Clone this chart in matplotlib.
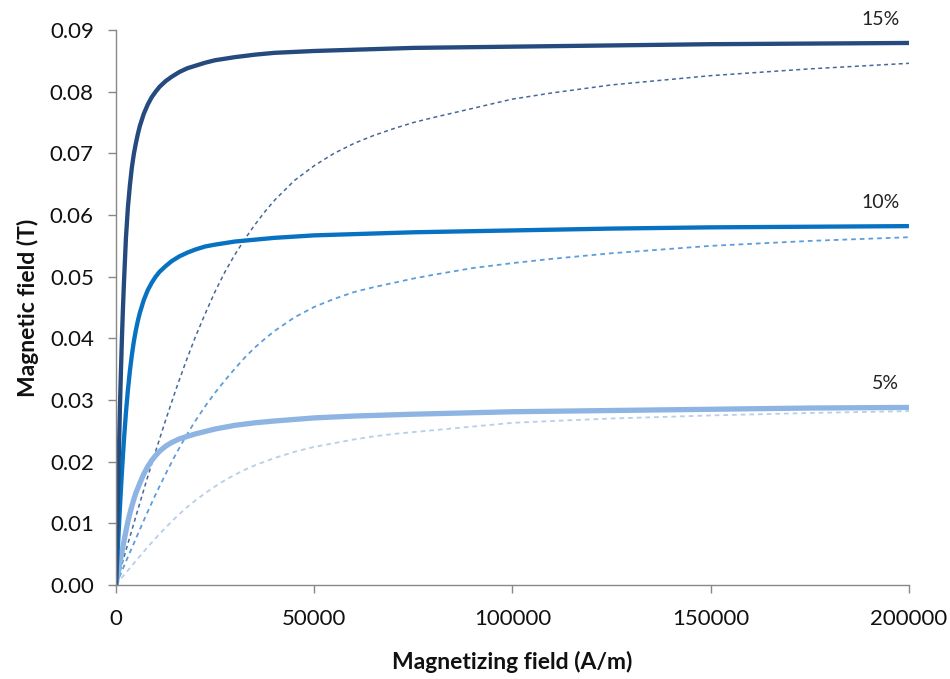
import matplotlib
matplotlib.use("Agg")
import matplotlib.pyplot as plt

plt.rcParams['font.family'] = ['Lato', 'DejaVu Sans']

# Magnetizing field H (A/m) sample points for the solid curves
h_solid = [0, 250, 500, 750, 1000, 1250, 1500, 1750, 2000, 2500, 3000, 3500,
           4000, 4500, 5000, 5500, 6000, 7000, 8000, 9000, 10000, 11000, 12500,
           14000, 16000, 18000, 20000, 22500, 25000, 30000, 35000, 40000, 50000,
           60000, 75000, 100000, 125000, 150000, 175000, 200000]

# Magnetic field B (T), solid curves
b15_solid = [0, 0.0077, 0.0151, 0.0222, 0.0290, 0.0347, 0.0401, 0.0448, 0.0489,
             0.0562, 0.0612, 0.0648, 0.0677, 0.0699, 0.0716, 0.0731, 0.0744,
             0.0764, 0.0779, 0.0791, 0.0800, 0.0808, 0.0817, 0.0824, 0.0832,
             0.0838, 0.0842, 0.0847, 0.0851, 0.0856, 0.0860, 0.0863, 0.0866,
             0.0868, 0.0871, 0.0873, 0.0875, 0.0877, 0.0878, 0.0879]
b10_solid = [0, 0.0033, 0.0065, 0.0096, 0.0127, 0.0156, 0.0184, 0.0210, 0.0235,
             0.0279, 0.0316, 0.0347, 0.0373, 0.0395, 0.0413, 0.0428, 0.0441,
             0.0462, 0.0478, 0.0490, 0.0500, 0.0508, 0.0517, 0.0525, 0.0533,
             0.0539, 0.0544, 0.0549, 0.0552, 0.0557, 0.0560, 0.0563, 0.0567,
             0.0569, 0.0572, 0.0575, 0.0578, 0.0580, 0.0581, 0.0582]
b5_solid = [0, 0.0009, 0.0018, 0.0027, 0.0036, 0.0045, 0.0053, 0.0062, 0.0071,
            0.0087, 0.0103, 0.0116, 0.0128, 0.0139, 0.0149, 0.0157, 0.0165,
            0.0180, 0.0192, 0.0202, 0.0210, 0.0217, 0.0225, 0.0231, 0.0237,
            0.0241, 0.0245, 0.0249, 0.0253, 0.0259, 0.0263, 0.0266, 0.0271,
            0.0274, 0.0277, 0.0281, 0.0283, 0.0285, 0.0287, 0.0288]

# Magnetizing field H (A/m) sample points for the dashed curves
h_dashed = [0, 2500, 5000, 7500, 10000, 12500, 15000, 17500, 20000, 22500,
            25000, 27500, 30000, 32500, 35000, 37500, 40000, 45000, 50000,
            55000, 60000, 65000, 70000, 75000, 80000, 90000, 100000, 110000,
            125000, 150000, 175000, 200000]

# Magnetic field B (T), dashed curves
b15_dashed = [0, 0.0056, 0.0111, 0.0165, 0.0217, 0.0267, 0.0315, 0.0360, 0.0402,
              0.0440, 0.0476, 0.0508, 0.0536, 0.0561, 0.0584, 0.0605, 0.0624,
              0.0656, 0.0680, 0.0700, 0.0716, 0.0729, 0.0740, 0.0750, 0.0758,
              0.0773, 0.0788, 0.0798, 0.0811, 0.0826, 0.0837, 0.0846]
b10_dashed = [0, 0.0038, 0.0075, 0.0112, 0.0147, 0.0180, 0.0211, 0.0240, 0.0266,
              0.0290, 0.0312, 0.0332, 0.0351, 0.0369, 0.0385, 0.0399, 0.0412,
              0.0434, 0.0451, 0.0464, 0.0475, 0.0483, 0.0490, 0.0497, 0.0503,
              0.0514, 0.0522, 0.0529, 0.0538, 0.0550, 0.0558, 0.0564]
b5_dashed = [0, 0.0020, 0.0039, 0.0058, 0.0076, 0.0093, 0.0109, 0.0124, 0.0137,
             0.0149, 0.0160, 0.0170, 0.0179, 0.0187, 0.0194, 0.0200, 0.0206,
             0.0216, 0.0224, 0.0230, 0.0236, 0.0241, 0.0245, 0.0248, 0.0251,
             0.0257, 0.0263, 0.0266, 0.0270, 0.0275, 0.0279, 0.0282]

labels = ["15%", "10%", "5%"]
label_b = [b15_solid[-1], b10_solid[-1], b5_solid[-1]]

c_dark = "#244A7E"
c_mid = "#0872C2"
c_light = "#8DB4E2"

fig = plt.figure(figsize=(9.5, 6.79), dpi=100)
ax = fig.add_axes([0.1221, 0.1384, 0.8347, 0.8174])

dash = (0, (2.6, 2.2))
ax.plot(h_dashed, b5_dashed, color="#B9CEE8", lw=1.3, linestyle=dash)
ax.plot(h_dashed, b10_dashed, color="#5C9DDC", lw=1.3, linestyle=dash)
ax.plot(h_dashed, b15_dashed, color="#46689A", lw=1.1, linestyle=dash)

ax.plot(h_solid, b5_solid, color=c_light, lw=3.8, solid_capstyle="butt")
ax.plot(h_solid, b10_solid, color=c_mid, lw=3.1, solid_capstyle="butt")
ax.plot(h_solid, b15_solid, color=c_dark, lw=3.1, solid_capstyle="butt")

for lab, b in zip(labels, label_b):
    ax.annotate(lab, xy=(200000, b), xytext=(-7, 11), textcoords="offset points",
                ha="right", va="bottom", fontsize=14, color="#222222")

ax.set_xlim(0, 200000)
ax.set_ylim(0, 0.09)
ax.set_xticks([0, 50000, 100000, 150000, 200000])
ax.set_xticklabels(["0", "50000", "100000", "150000", "200000"])
ax.set_yticks([i * 0.01 for i in range(10)])
ax.set_yticklabels([f"{i * 0.01:.2f}" for i in range(10)])

for side in ("top", "right"):
    ax.spines[side].set_visible(False)
for side in ("left", "bottom"):
    ax.spines[side].set_color("#888888")
    ax.spines[side].set_linewidth(1.0)
ax.tick_params(axis="both", direction="out", length=6, width=1.0,
               color="#888888", labelsize=16, labelcolor="#111111")
ax.tick_params(axis="x", pad=11)
ax.tick_params(axis="y", pad=10)

ax.set_xlabel("Magnetizing field (A/m)", fontsize=16.5, fontweight="bold",
              labelpad=16, color="#111111")
ax.set_ylabel("Magnetic field (T)", fontsize=16.5, fontweight="bold",
              labelpad=8, color="#111111")

fig.savefig("out.png", dpi=100, facecolor="white")
